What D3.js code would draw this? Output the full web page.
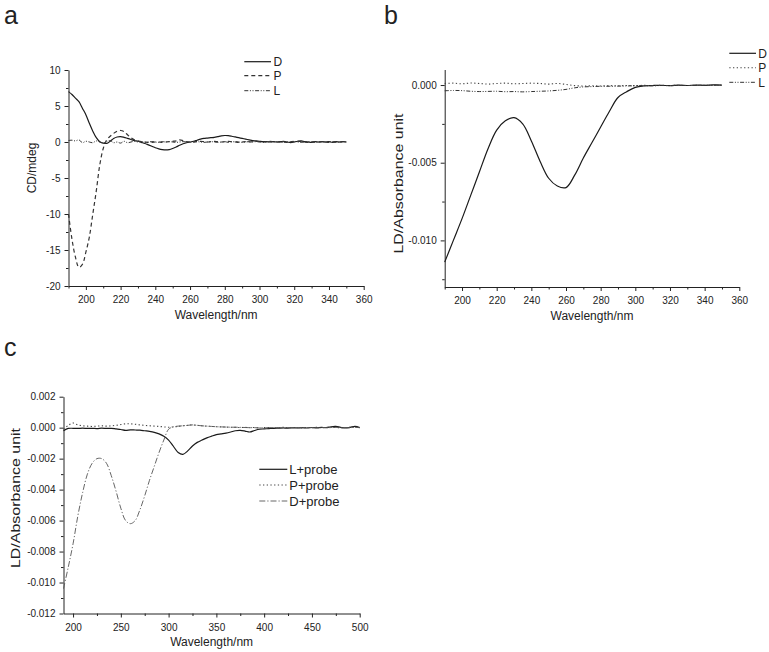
<!DOCTYPE html>
<html><head><meta charset="utf-8">
<script src="https://cdn.jsdelivr.net/npm/d3@7"></script>
<style>
body{margin:0;background:#fff}
svg{display:block;background:#fff}
text{font-family:Arial,"Liberation Sans",sans-serif;fill:#222}
</style>
</head><body>
<svg id="chart" width="769" height="652"></svg>
<script>
// ---------------- Panel a: CD spectra ----------------
const waveA = [190,192,194,196,198,200,202,204,206,208,
  210,212,214,216,218,220,222,224,226,228,
  230,232,234,236,238,240,242,244,246,248,
  250,252,254,256,258,260,262,264,266,268,
  270,272,274,276,278,280,282,284,286,288,
  290,292,294,296,298,300,302,304,306,308,
  310,312,314,316,318,320,322,324,326,328,
  330,332,334,336,338,340,342,344,346,348,
  350];
const cdD = [7.0,6.6,6.1,5.6,4.7,3.8,2.6,1.5,0.6,0.05,
  -0.15,-0.2,0.1,0.5,0.7,0.75,0.65,0.5,0.35,0.2,
  0.1,-0.05,-0.2,-0.4,-0.6,-0.8,-0.95,-1.05,-1.1,-1.05,
  -0.9,-0.7,-0.45,-0.25,-0.1,0.0,0.1,0.25,0.4,0.5,
  0.55,0.6,0.65,0.75,0.85,0.9,0.88,0.8,0.7,0.6,
  0.5,0.4,0.3,0.2,0.15,0.1,0.05,0.05,0.0,0.05,
  0.0,0.05,0.1,0.0,-0.1,0.0,0.1,0.15,0.05,0.0,
  -0.05,0.05,0.0,0.05,0.0,0.05,-0.05,0.05,0.0,0.05,
  0.0];
const cdP = [-10.0,-13.5,-16.0,-17.4,-17.0,-15.3,-13.2,-10.0,-6.8,-3.2,
  -0.9,0.3,0.8,1.2,1.5,1.6,1.45,1.0,0.6,0.3,
  0.15,0.05,0.0,-0.05,-0.05,0.0,0.0,-0.05,0.0,0.05,
  0.1,0.15,0.3,0.2,0.05,0.0,0.0,0.05,0.1,0.05,
  0.0,0.05,0.1,0.05,0.0,0.05,0.1,0.05,0.0,-0.05,
  0.0,0.05,0.0,0.05,0.1,0.05,0.0,0.05,0.1,0.05,
  0.0,0.05,0.0,-0.05,0.0,0.05,0.1,0.05,0.0,-0.05,
  0.0,0.05,0.0,0.05,0.0,-0.05,0.0,0.05,0.0,0.05,
  0.0];
const cdL = [0.2,0.25,0.15,0.3,-0.1,0.1,0.0,-0.1,0.15,0.0,
  -0.15,0.05,0.2,-0.1,0.0,-0.15,0.1,-0.1,0.0,0.1,
  0.0,0.05,-0.05,0.0,0.05,0.0,-0.05,0.05,0.0,0.05,
  0.0,-0.05,0.0,0.05,0.0,-0.05,0.0,0.05,0.0,-0.05,
  0.0,0.05,0.0,-0.05,0.0,0.05,-0.05,0.0,0.05,0.0,
  -0.05,0.0,0.05,0.0,0.05,0.0,-0.05,0.0,0.05,0.0,
  0.05,0.0,-0.05,0.0,0.05,0.1,0.0,-0.05,0.0,0.05,
  0.0,-0.05,0.0,0.05,0.0,0.05,0.0,-0.05,0.0,0.05,
  0.0];
const xTicksA = [200,220,240,260,280,300,320,340,360];
const xMinorA = [190,210,230,250,270,290,310,330,350];
const yTicksA = [10,5,0,-5,-10,-15,-20];
const yMinorA = [7.5,2.5,-2.5,-7.5,-12.5,-17.5];

// ---------------- Panel b: LD spectra ----------------
const waveB = [190,195,200,205,210,215,220,225,230,235,
  240,245,250,255,260,265,270,275,280,285,
  290,295,300,305,310,315,320,325,330,335,
  340,345,350];
const ldD = [-0.0114,-0.0100,-0.0086,-0.0071,-0.0056,-0.0041,-0.0029,-0.0023,-0.0021,-0.0025,
  -0.0036,-0.0049,-0.0060,-0.0065,-0.0066,-0.0058,-0.0047,-0.0037,-0.0027,-0.0017,
  -0.0008,-0.00043,-0.00015,-0.00005,-0.00003,-0.00002,-0.00004,-0.00001,-0.00003,0.0,
  -0.00002,0.00001,0.0];
const ldP = [0.0001,0.00012,0.00008,0.00013,0.0001,0.00006,0.0001,0.00012,0.00008,0.0001,
  0.00012,0.0001,0.00006,0.0001,0.00004,-0.00004,-0.00006,-0.00005,-0.00006,-0.00004,
  -0.00005,-0.00003,-0.00004,-0.00002,-0.00004,-0.00002,-0.00003,-0.00001,-0.00003,-0.00002,
  -0.00001,-0.00002,0.0];
const ldL = [-0.00037,-0.00035,-0.00036,-0.0004,-0.00042,-0.00041,-0.0004,-0.00043,-0.00042,-0.00044,
  -0.00042,-0.0004,-0.00038,-0.00034,-0.00028,-0.00018,-0.00012,-0.0001,-0.00008,-0.00008,
  -0.00007,-0.00006,-0.00005,-0.00004,-0.00005,-0.00003,-0.00004,-0.00002,-0.00003,-0.00002,
  -0.00002,-0.00001,0.0];
const xTicksB = [200,220,240,260,280,300,320,340,360];
const xMinorB = [190,210,230,250,270,290,310,330,350];
const yTicksB = [0,-0.005,-0.01];
const yMinorB = [-0.0025,-0.0075,-0.0125];

// ---------------- Panel c: LD with probe ----------------
const waveC = [190,195,200,205,210,215,220,225,230,235,
  240,245,250,255,260,265,270,275,280,285,
  290,295,300,305,310,315,320,325,330,335,
  340,345,350,355,360,365,370,375,380,385,
  390,395,400,405,410,415,420,425,430,435,
  440,445,450,455,460,465,470,475,480,485,
  490,495,500];
const ldLprobe = [-0.0002,-0.00005,-0.00004,-0.00005,-0.00003,-0.00005,-0.00004,-0.00006,-0.00003,-0.00005,
  -0.00004,-0.00008,-0.00012,-0.00018,-0.00014,-0.00015,-0.00016,-0.0002,-0.00024,-0.0003,
  -0.0004,-0.00055,-0.0008,-0.0012,-0.0016,-0.00172,-0.0015,-0.00118,-0.00095,-0.0008,
  -0.00066,-0.00055,-0.00045,-0.0004,-0.00035,-0.00028,-0.0002,-0.00018,-0.00022,-0.00028,
  -0.00018,-0.0001,-0.00008,-0.00006,-0.00004,-0.00003,-0.00002,-0.00003,-0.00001,-0.00002,
  0.0,-0.00002,0.00001,-0.00001,0.00002,0.0,0.00006,0.00008,0.00002,-0.00002,
  0.00002,0.00008,0.0];
const ldPprobe = [-0.0001,0.00015,0.0003,0.00018,0.00012,0.0001,0.00008,0.0001,0.00012,0.0001,
  0.00012,0.00015,0.0002,0.00025,0.00025,0.00022,0.00018,0.00015,0.00012,0.0001,
  0.00008,0.00005,0.00003,0.00005,0.00008,0.00012,0.00015,0.00018,0.00015,0.00012,
  0.0001,0.00008,0.00006,0.00005,0.00004,0.00003,0.00002,0.00001,0.00002,0.0,
  0.00001,-0.00002,0.0,0.00001,0.0,-0.00001,0.00002,0.0,0.00001,0.0,
  -0.00001,0.00001,0.0,0.00002,0.0,-0.00001,0.00002,0.00001,0.0,0.00001,
  0.00002,0.00003,0.0];
const ldDprobe = [-0.0104,-0.009,-0.0075,-0.0057,-0.0042,-0.003,-0.0023,-0.002,-0.002,-0.0023,
  -0.0031,-0.0041,-0.0052,-0.006,-0.0062,-0.006,-0.0053,-0.0044,-0.0034,-0.0025,
  -0.0016,-0.0008,-0.0001,0.00005,0.0001,0.00012,0.00015,0.00018,0.00015,0.00012,
  0.0001,0.00008,0.00006,0.00005,0.00004,0.00003,0.00003,0.00002,0.00001,0.0,
  0.0,-0.00002,-0.00001,0.0,0.00001,0.0,-0.00001,0.0,0.00001,0.0,
  0.0,0.00001,0.0,-0.00001,0.0,0.00001,0.0,0.00002,0.0,0.00001,
  0.0,0.00002,0.0];
const xTicksC = [200,250,300,350,400,450,500];
const xMinorC = [225,275,325,375,425,475];
const yTicksC = [0.002,0,-0.002,-0.004,-0.006,-0.008,-0.01,-0.012];
const yMinorC = [0.001,-0.001,-0.003,-0.005,-0.007,-0.009,-0.011];

// ---------------- drawing ----------------
const svg = d3.select("#chart");
svg.append("rect").attr("width",769).attr("height",652).attr("fill","#fff");

const STY = {
  solid:   {dash:null, color:"#1a1a1a", w:1.2},
  dashed:  {dash:"4,3", color:"#333", w:1.2},
  dotted:  {dash:"1.3,2.4", color:"#444", w:1.1},
  dashdotdot: {dash:"4,1.6,1,1.6,1,1.6", color:"#333", w:1.0},
  dashdot: {dash:"6,2,1.2,2", color:"#555", w:0.9}
};

function panel(cfg){
  const x = d3.scaleLinear().domain(cfg.xDomain).range(cfg.xRange);
  const y = d3.scaleLinear().domain(cfg.yDomain).range(cfg.yRange);
  const g = svg.append("g");
  const styleAxis = sel => {
    sel.select(".domain").attr("stroke","#222").attr("stroke-width",1);
    sel.selectAll(".tick line").attr("stroke","#222");
    sel.selectAll("text").attr("font-size",cfg.tickFont).attr("fill","#222")
      .attr("font-family","Arial, 'Liberation Sans', sans-serif");
  };
  // minor ticks
  g.append("g").attr("transform",`translate(0,${cfg.yRange[0]})`)
    .call(d3.axisBottom(x).tickValues(cfg.xMinor).tickSize(2.5).tickSizeOuter(0).tickFormat(""))
    .call(s=>{s.select(".domain").remove(); s.selectAll("line").attr("stroke","#222");});
  g.append("g").attr("transform",`translate(${cfg.xRange[0]},0)`)
    .call(d3.axisLeft(y).tickValues(cfg.yMinor).tickSize(2.5).tickSizeOuter(0).tickFormat(""))
    .call(s=>{s.select(".domain").remove(); s.selectAll("line").attr("stroke","#222");});
  // major axes
  g.append("g").attr("transform",`translate(0,${cfg.yRange[0]})`)
    .call(d3.axisBottom(x).tickValues(cfg.xTicks).tickSize(4).tickSizeOuter(0).tickPadding(6).tickFormat(d=>String(d)))
    .call(styleAxis);
  g.append("g").attr("transform",`translate(${cfg.xRange[0]},0)`)
    .call(d3.axisLeft(y).tickValues(cfg.yTicks).tickSize(4).tickSizeOuter(0).tickPadding(4).tickFormat(cfg.yFmt))
    .call(styleAxis);
  // series
  const line = d3.line().curve(d3.curveCatmullRom.alpha(0.5));
  cfg.series.forEach(s=>{
    const st = STY[s.style];
    g.append("path")
      .attr("d", line(cfg.wave.map((w,i)=>[x(w), y(s.values[i])])))
      .attr("fill","none").attr("stroke",st.color).attr("stroke-width",st.w)
      .attr("stroke-dasharray",st.dash).attr("stroke-linejoin","round");
  });
  // legend
  cfg.series.forEach((s,i)=>{
    const st = STY[s.style];
    const ly = cfg.legend.y[i];
    g.append("line").attr("x1",cfg.legend.x1).attr("x2",cfg.legend.x2)
      .attr("y1",ly).attr("y2",ly)
      .attr("stroke",st.color).attr("stroke-width",st.w).attr("stroke-dasharray",st.dash);
    g.append("text").attr("x",cfg.legend.tx).attr("y",ly).attr("dy","0.36em")
      .attr("font-size",cfg.legend.font).text(s.name);
  });
  // axis titles
  g.append("text").attr("x",(cfg.xRange[0]+cfg.xRange[1])/2).attr("y",cfg.xTitleY)
    .attr("text-anchor","middle").attr("font-size",12).text("Wavelength/nm");
  const yt = g.append("text")
    .attr("transform",`translate(${cfg.yTitle.x},${cfg.yTitle.y}) rotate(-90)`)
    .attr("text-anchor","middle").attr("dy","0.36em")
    .attr("font-size",cfg.yTitle.font).text(cfg.yTitle.text);
  if (cfg.yTitle.len) yt.attr("textLength",cfg.yTitle.len).attr("lengthAdjust","spacingAndGlyphs");
  // panel letter
  svg.append("text").attr("x",cfg.letter.x).attr("y",cfg.letter.y)
    .attr("font-size",25).text(cfg.letter.t);
}

panel({
  wave: waveA, xDomain:[190,360], xRange:[68.5,363.7], yDomain:[-20,10], yRange:[286,70],
  xTicks:xTicksA, xMinor:xMinorA, yTicks:yTicksA, yMinor:yMinorA, tickFont:10,
  yFmt: d=>String(d),
  series:[{name:"D",values:cdD,style:"solid"},{name:"P",values:cdP,style:"dashed"},{name:"L",values:cdL,style:"dashdotdot"}],
  legend:{x1:244.3,x2:271,tx:273.5,y:[61.7,75.7,90.7],font:12},
  xTitleY:319, yTitle:{x:32,y:168,text:"CD/mdeg",font:12},
  letter:{x:4,y:24,t:"a"}
});
panel({
  wave: waveB, xDomain:[190,360], xRange:[444.7,739.3], yDomain:[-0.013,0.001], yRange:[287,69.5],
  xTicks:xTicksB, xMinor:xMinorB, yTicks:yTicksB, yMinor:yMinorB, tickFont:10,
  yFmt: d=>d.toFixed(3),
  series:[{name:"D",values:ldD,style:"solid"},{name:"P",values:ldP,style:"dotted"},{name:"L",values:ldL,style:"dashdotdot"}],
  legend:{x1:729.3,x2:756,tx:758.3,y:[53.3,67.7,82.3],font:12},
  xTitleY:320, yTitle:{x:398,y:183.5,text:"LD/Absorbance unit",font:13,len:140},
  letter:{x:384,y:24,t:"b"}
});
panel({
  wave: waveC, xDomain:[190,500], xRange:[63.5,359.7], yDomain:[-0.012,0.002], yRange:[613.5,396.7],
  xTicks:xTicksC, xMinor:xMinorC, yTicks:yTicksC, yMinor:yMinorC, tickFont:10,
  yFmt: d=>d.toFixed(3),
  series:[{name:"L+probe",values:ldLprobe,style:"solid"},{name:"P+probe",values:ldPprobe,style:"dotted"},{name:"D+probe",values:ldDprobe,style:"dashdot"}],
  legend:{x1:259.3,x2:287.3,tx:289.3,y:[469.3,485,501],font:13},
  xTitleY:646, yTitle:{x:15,y:498,text:"LD/Absorbance unit",font:13,len:140},
  letter:{x:4,y:356,t:"c"}
});
</script>
</body></html>
